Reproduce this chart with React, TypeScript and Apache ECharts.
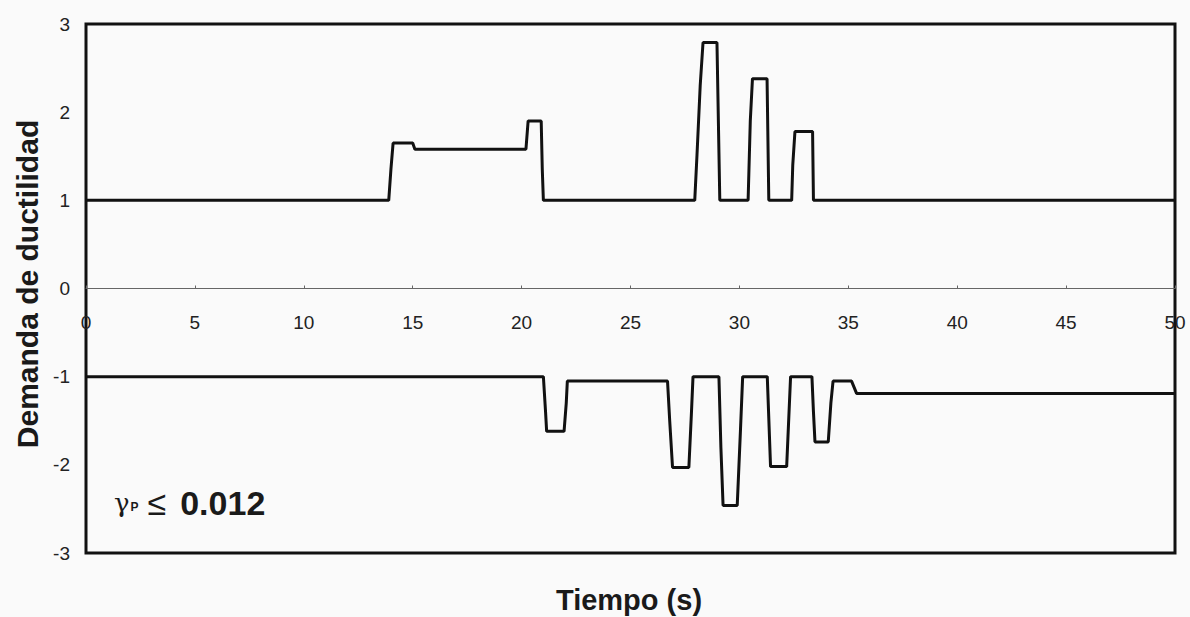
import React, { useEffect, useRef } from "react";
import * as echarts from "echarts";

// Upper envelope (positive ductility demand)
const upperTime = [0, 13.9, 14.0, 14.1, 15.0, 15.1, 20.2, 20.3, 20.9, 20.95, 21.0, 27.95, 28.05, 28.2, 28.33, 28.97, 29.1, 30.4, 30.5, 30.6, 31.27, 31.35, 32.4, 32.45, 32.55, 33.36, 33.4, 50];
const upperValue = [1, 1, 1.35, 1.65, 1.65, 1.58, 1.58, 1.9, 1.9, 1.35, 1, 1, 1.5, 2.3, 2.79, 2.79, 1, 1, 1.9, 2.38, 2.38, 1, 1, 1.4, 1.78, 1.78, 1, 1];

// Lower envelope (negative ductility demand)
const lowerTime = [0, 21.0, 21.1, 21.15, 21.95, 22.05, 22.1, 26.7, 26.8, 26.93, 27.68, 27.8, 27.87, 29.06, 29.15, 29.25, 29.9, 30.05, 30.15, 31.28, 31.43, 32.17, 32.35, 33.33, 33.4, 33.47, 34.08, 34.2, 34.3, 35.15, 35.38, 50];
const lowerValue = [-1, -1, -1.4, -1.62, -1.62, -1.3, -1.05, -1.05, -1.5, -2.03, -2.03, -1.4, -1, -1, -1.8, -2.46, -2.46, -1.6, -1, -1, -2.02, -2.02, -1, -1, -1.4, -1.74, -1.74, -1.3, -1.05, -1.05, -1.19, -1.19];

const xTicks = { min: 0, max: 50, interval: 5 };
const yTicks = { min: -3, max: 3, interval: 1 };

const xTitle = "Tiempo (s)";
const yTitle = "Demanda de ductilidad";

const FONT = "'Liberation Sans', Arial, Helvetica, sans-serif";

const GRID_TOP = 24;
const GRID_BOTTOM = 64;
const CHART_H = 617;

export default function App() {
  const ref = useRef<HTMLDivElement>(null);
  useEffect(() => {
    if (!ref.current) return;
    const chart = echarts.init(ref.current, null, { renderer: "svg" });
    const upper = upperTime.map((t, i) => [t, upperValue[i]]);
    const lower = lowerTime.map((t, i) => [t, lowerValue[i]]);
    const gridH = CHART_H - GRID_TOP - GRID_BOTTOM;
    // shift the x axis up so that it sits on y = 0
    const zeroOffset = -gridH * ((0 - yTicks.min) / (yTicks.max - yTicks.min));
    chart.setOption({
      animation: false,
      backgroundColor: "#fafafa",
      grid: {
        left: 86,
        right: 15,
        top: GRID_TOP,
        bottom: GRID_BOTTOM,
        show: true,
        borderColor: "#111",
        borderWidth: 3,
        backgroundColor: "transparent",
      },
      xAxis: {
        type: "value",
        position: "bottom",
        offset: zeroOffset,
        min: xTicks.min,
        max: xTicks.max,
        interval: xTicks.interval,
        axisLine: { onZero: false, lineStyle: { color: "#666", width: 1 } },
        axisTick: { show: true, length: 3, inside: true, lineStyle: { color: "#666" } },
        splitLine: { show: false },
        axisLabel: {
          margin: 24,
          color: "#222",
          fontSize: 19,
          fontFamily: FONT,
        },
      },
      yAxis: {
        type: "value",
        min: yTicks.min,
        max: yTicks.max,
        interval: yTicks.interval,
        axisLine: { show: false },
        axisTick: { show: false },
        splitLine: { show: false },
        axisLabel: {
          margin: 16,
          color: "#222",
          fontSize: 19,
          fontFamily: FONT,
        },
      },
      graphic: [
        {
          type: "text",
          x: 27,
          y: 284,
          rotation: Math.PI / 2,
          style: {
            text: yTitle,
            fontFamily: FONT,
            fontWeight: "bold",
            fontSize: 30,
            fill: "#1a1a1a",
            align: "center",
            verticalAlign: "middle",
          },
        },
        {
          type: "text",
          x: 629,
          y: 600,
          style: {
            text: xTitle,
            fontFamily: FONT,
            fontWeight: "bold",
            fontSize: 29,
            fill: "#1a1a1a",
            align: "center",
            verticalAlign: "middle",
          },
        },
        {
          type: "text",
          x: 114,
          y: 503,
          style: {
            text: "{g|γ}{p|P}{s|≤}{b|0.012}",
            verticalAlign: "middle",
            align: "left",
            rich: {
              g: { fontFamily: "'DejaVu Serif', serif", fontSize: 26, fill: "#1a1a1a" },
              p: { fontFamily: FONT, fontSize: 12, fontWeight: "bold", fill: "#1a1a1a", padding: [8, 0, 0, 1] },
              s: { fontFamily: FONT, fontSize: 34, fill: "#1a1a1a", padding: [0, 14, 0, 9] },
              b: { fontFamily: FONT, fontSize: 34, fontWeight: "bold", fill: "#1a1a1a" },
            },
          },
        },
      ],
      series: [
        {
          type: "line",
          data: upper,
          symbol: "none",
          lineStyle: { color: "#111", width: 3 },
          z: 3,
        },
        {
          type: "line",
          data: lower,
          symbol: "none",
          lineStyle: { color: "#111", width: 3 },
          z: 3,
        },
      ],
    });
    return () => chart.dispose();
  }, []);
  return (
    <div
      ref={ref}
      style={{ position: "absolute", left: 0, top: 0, width: 1190, height: 617 }}
    />
  );
}
